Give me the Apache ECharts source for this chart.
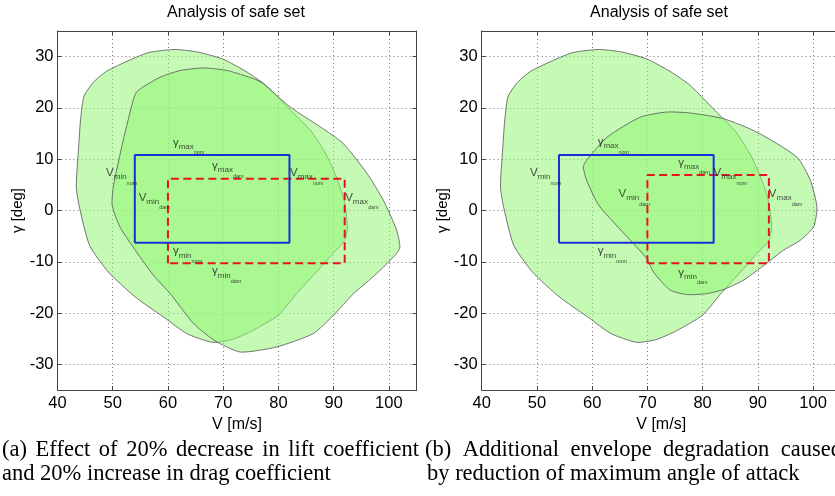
<!DOCTYPE html>
<html>
<head>
<meta charset="utf-8">
<script src="https://cdn.jsdelivr.net/npm/echarts@6/dist/echarts.min.js"></script>
<style>
html, body { margin: 0; padding: 0; background: #fff; }
#chart { width: 835px; height: 496px; }
</style>
</head>
<body>
<div id="chart"></div>
<script>
//-------------------- data --------------------//
var vRange = [40, 105];        // V [m/s]
var gammaRange = [-35, 35];    // gamma [deg]

// nominal safe set (same in both panels)
var nominalEnvelope = [
  [61.3, 31.4], [65.4, 30.9], [70.0, 29.5], [74.3, 27.0], [77.5, 24.6], [80.0, 22.0],
  [82.5, 19.2], [85.9, 15.5], [88.6, 11.0], [90.4, 6.8], [91.9, 2.0], [92.5, -3.2],
  [92.0, -5.8], [89.5, -8.8], [87.2, -11.6], [83.3, -16.2], [80.0, -20.4], [75.0, -23.6],
  [71.5, -25.2], [68.0, -25.7], [63.4, -24.0], [59.5, -21.0], [54.0, -16.8], [49.2, -12.0],
  [45.8, -6.8], [44.0, 0.5], [43.4, 4.6], [43.8, 12.0], [44.2, 18.0], [44.8, 22.3],
  [46.5, 25.0], [48.8, 27.1], [52.6, 29.1], [56.5, 30.8]
];
// (a) damaged: -20% lift, +20% drag
var damagedEnvelopeA = [
  [77.2, 24.8], [75.5, 25.7], [70.7, 27.3], [66.4, 27.8], [62.2, 27.3], [58.6, 26.0],
  [55.5, 24.1], [54.3, 23.1], [53.7, 21.5], [51.9, 13.7], [50.1, 4.6], [49.9, 1.0],
  [51.3, -3.2], [54.9, -9.0], [57.5, -12.8], [60.4, -16.2], [64.6, -22.0], [68.5, -25.4],
  [73.1, -27.6], [79.7, -26.6], [86.3, -24.0], [90.0, -20.4], [93.6, -16.2], [97.8, -12.3],
  [101.4, -8.4], [102.0, -7.1], [101.4, -3.8], [99.0, 2.0], [96.0, 7.3], [91.7, 13.1],
  [87.6, 16.3], [82.1, 20.2]
];
// (b) damaged: reduced max angle of attack
var damagedEnvelopeB = [
  [58.4, 8.5], [59.0, 9.8], [62.7, 14.3], [68.7, 18.2], [73.5, 19.2], [77.8, 19.0],
  [83.8, 17.9], [89.8, 15.3], [97.1, 10.4], [99.5, 5.9], [100.7, 0.7], [100.1, -3.2],
  [97.7, -5.8], [94.7, -7.7], [92.3, -9.7], [87.4, -13.6], [83.8, -15.4], [80.8, -16.2],
  [77.2, -16.4], [74.1, -15.5], [71.1, -12.0], [69.9, -9.4], [66.9, -5.8], [61.2, 1.0],
  [59.0, 5.9]
];

// box limits [vMin, vMax, gammaMin, gammaMax]
var nomLimits = [54, 82, -6.3, 10.8];
var damLimitsA = [60, 92, -10.3, 6.2];
var damLimitsB = [70, 92, -10.3, 6.9];

// text labels [symbol, sub, subsub] and where they sit
var labelTexts = [
  ['γ', 'max', 'nom'], ['V', 'min', 'nom'], ['V', 'min', 'dam'], ['γ', 'max', 'dam'],
  ['V', 'max', 'nom'], ['V', 'max', 'dam'], ['γ', 'min', 'nom'], ['γ', 'min', 'dam']
];
var labelPosA = [[60.9, 12.9], [48.8, 7.4], [54.7, 2.65], [68.0, 8.3], [82.1, 7.4], [92.1, 2.65], [60.9, -8.3], [68.0, -12.2]];
var labelPosB = [[61.0, 13.0], [48.75, 7.4], [64.8, 3.3], [75.6, 9.0], [82.0, 7.4], [92.0, 3.3], [61.0, -8.3], [75.6, -12.5]];

var captionA = ['(a) Effect of 20% decrease in lift coefficient', 'and 20% increase in drag coefficient'];
var captionB = ['(b) Additional envelope degradation caused', 'by reduction of maximum angle of attack'];

//-------------------- chart --------------------//
var SANS = 'Liberation Sans';
var SERIF = 'Liberation Serif';
var myChart = echarts.init(document.getElementById('chart'));

function xAxisFor(gridIndex, isTop) {
  return {
    type: 'value', gridIndex: gridIndex, position: isTop ? 'top' : 'bottom',
    min: vRange[0], max: vRange[1], splitNumber: 7, minInterval: 10, maxInterval: 10,
    axisLine: { show: true, onZero: false, lineStyle: { color: '#444', width: 1 } },
    axisTick: { show: true, inside: true, length: 4, lineStyle: { color: '#444' } },
    axisLabel: { show: !isTop, margin: 5, fontSize: 16.5, color: '#000', fontFamily: SANS, showMaxLabel: false },
    splitLine: { show: !isTop, lineStyle: { type: [1, 3], color: '#777' } },
    name: isTop ? '' : 'V [m/s]', nameLocation: 'middle', nameGap: 21,
    nameTextStyle: { fontSize: 16, color: '#000', fontFamily: SANS }
  };
}
function yAxisFor(gridIndex, isRight) {
  return {
    type: 'value', gridIndex: gridIndex, position: isRight ? 'right' : 'left',
    min: gammaRange[0], max: gammaRange[1], splitNumber: 7, minInterval: 10, maxInterval: 10,
    axisLine: { show: true, onZero: false, lineStyle: { color: '#444', width: 1 } },
    axisTick: { show: true, inside: true, length: 4, lineStyle: { color: '#444' } },
    axisLabel: { show: !isRight, margin: 4, fontSize: 16.5, color: '#000', fontFamily: SANS, showMinLabel: false, showMaxLabel: false },
    splitLine: { show: !isRight, lineStyle: { type: [1, 3], color: '#777' } },
    name: isRight ? '' : 'γ [deg]', nameLocation: 'middle', nameGap: 27, nameRotate: 90,
    nameTextStyle: { fontSize: 15, color: '#000', fontFamily: SANS }
  };
}

function envelopeSeries(pts, axisIndex) {
  return {
    type: 'custom', xAxisIndex: axisIndex, yAxisIndex: axisIndex, silent: true, z: 2,
    data: [pts[0]],
    renderItem: function (params, api) {
      return {
        type: 'polygon',
        shape: { points: pts.map(function (p) { return api.coord(p); }), smooth: 0.2 },
        style: { fill: 'rgba(148,246,119,0.55)', stroke: '#555', lineWidth: 0.8 }
      };
    }
  };
}

function boxPoints(lim) {
  return [[lim[0], lim[2]], [lim[0], lim[3]], [lim[1], lim[3]], [lim[1], lim[2]], [lim[0], lim[2]]];
}
function boxSeries(lim, axisIndex, color, dashed) {
  return {
    type: 'line', xAxisIndex: axisIndex, yAxisIndex: axisIndex, silent: true, z: dashed ? 3 : 4,
    showSymbol: false, symbol: 'none', data: boxPoints(lim),
    lineStyle: { color: color, width: 2, type: dashed ? [8, 4.5] : 'solid' }
  };
}

function labelSeries(pos, axisIndex) {
  return {
    type: 'scatter', xAxisIndex: axisIndex, yAxisIndex: axisIndex, silent: true, z: 5,
    symbolSize: 0.1, itemStyle: { color: 'rgba(0,0,0,0)' },
    data: pos.map(function (p, i) {
      return { value: p, label: { offset: [0, labelTexts[i][0] === 'γ' ? -7.7 : -5.5] } };
    }),
    label: {
      show: true, position: [0, 0], align: 'left', verticalAlign: 'top',
      formatter: function (p) {
        var t = labelTexts[p.dataIndex];
        return '{m|' + t[0] + '}{s|' + t[1] + '}{ss|' + t[2] + '}';
      },
      rich: {
        m: { fontSize: 11.5, fontFamily: SANS, color: '#1a1a1a', verticalAlign: 'top' },
        s: { fontSize: 8, fontFamily: SANS, color: '#1a1a1a', verticalAlign: 'top', padding: [6, 0, 0, 0] },
        ss: { fontSize: 5.5, fontFamily: SANS, color: '#1a1a1a', verticalAlign: 'top', padding: [13, 0, 0, 0] }
      }
    }
  };
}

// caption lines, word by word so the first line can be justified
var CAP_SIZE = 22.5;
var measureCtx = document.createElement('canvas').getContext('2d');
function captionLine(text, x0, x1, baseline, justify) {
  var font = CAP_SIZE + 'px "' + SERIF + '"';
  measureCtx.font = font;
  var words = text.split(' ');
  var widths = words.map(function (w) { return measureCtx.measureText(w).width; });
  var total = widths.reduce(function (a, b) { return a + b; }, 0);
  var gap = justify ? (x1 - x0 - total) / (words.length - 1) : measureCtx.measureText(' ').width;
  var x = x0;
  return words.map(function (w, i) {
    var el = {
      type: 'text', x: x, y: baseline - 0.3 * CAP_SIZE, silent: true,
      style: { text: w, fontSize: CAP_SIZE, fontFamily: SERIF, fill: '#000', align: 'left', verticalAlign: 'middle' }
    };
    x += widths[i] + gap;
    return el;
  });
}

var titles = [236, 659].map(function (cx) {
  return {
    type: 'text', x: cx, y: 12.5, silent: true,
    style: { text: 'Analysis of safe set', fontSize: 16, fontFamily: SANS, fill: '#000', align: 'center', verticalAlign: 'middle' }
  };
});

var graphics = titles
  .concat(captionLine(captionA[0], 2, 419, 457, true))
  .concat(captionLine(captionA[1], 2, 0, 481, false))
  .concat(captionLine(captionB[0], 425, 842, 457, true))
  .concat(captionLine(captionB[1], 427, 0, 481, false));

var option = {
  animation: false,
  backgroundColor: '#fff',
  grid: [
    { left: 57.5, top: 31, width: 359, height: 359, outerBoundsMode: 'none', containLabel: false },
    { left: 481.7, top: 31, width: 359, height: 359, outerBoundsMode: 'none', containLabel: false }
  ],
  xAxis: [xAxisFor(0, false), xAxisFor(1, false), xAxisFor(0, true), xAxisFor(1, true)],
  yAxis: [yAxisFor(0, false), yAxisFor(1, false), yAxisFor(0, true), yAxisFor(1, true)],
  series: [
    envelopeSeries(nominalEnvelope, 0),
    envelopeSeries(damagedEnvelopeA, 0),
    boxSeries(damLimitsA, 0, '#e8141c', true),
    boxSeries(nomLimits, 0, '#1a2fd8', false),
    labelSeries(labelPosA, 0),
    envelopeSeries(nominalEnvelope, 1),
    envelopeSeries(damagedEnvelopeB, 1),
    boxSeries(damLimitsB, 1, '#e8141c', true),
    boxSeries(nomLimits, 1, '#1a2fd8', false),
    labelSeries(labelPosB, 1)
  ],
  graphic: graphics
};
myChart.setOption(option);
</script>
</body>
</html>
